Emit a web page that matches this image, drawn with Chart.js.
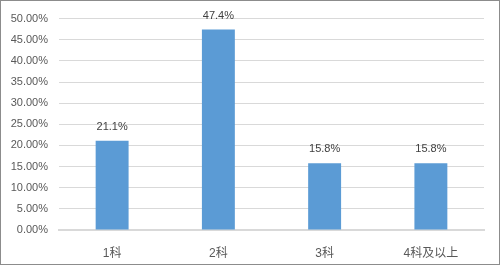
<!DOCTYPE html>
<html>
<head>
<meta charset="utf-8">
<script src="https://cdn.jsdelivr.net/npm/chart.js@4"></script>
<style>
    html, body { margin: 0; padding: 0; background: #fff; }
    #wrap { width: 500px; height: 265px; box-sizing: border-box; border: 1px solid #8c8c8c; }
    canvas { display: block; }
</style>
</head>
<body>
<div id="wrap"><canvas id="c" width="498" height="263"></canvas></div>
<script>
const categories = ['1科', '2科', '3科', '4科及以上'];
const shares = [21.1, 47.4, 15.8, 15.8];
const tickStep = 5;

const FONT = '"Liberation Sans", "Noto Sans CJK SC", sans-serif';

// labels above each bar
const barLabels = {
    id: 'barLabels',
    afterDatasetsDraw(chart) {
        const ctx = chart.ctx;
        const meta = chart.getDatasetMeta(0);
        ctx.save();
        ctx.font = '11px ' + FONT;
        ctx.fillStyle = '#404040';
        ctx.textAlign = 'center';
        ctx.textBaseline = 'middle';
        meta.data.forEach((bar, i) => {
            ctx.fillText(shares[i].toFixed(1) + '%', bar.x, bar.y - 14);
        });
        ctx.restore();
    }
};

const ctx = document.getElementById('c').getContext('2d');
new Chart(ctx, {
    type: 'bar',
    data: {
        labels: categories,
        datasets: [{
            data: shares,
            backgroundColor: '#5b9bd5',
            categoryPercentage: 1,
            barPercentage: 0.31
        }]
    },
    options: {
        responsive: false,
        animation: false,
        layout: { padding: { top: 14, right: 15, left: 0, bottom: 0 } },
        plugins: { legend: { display: false }, tooltip: { enabled: false } },
        scales: {
            x: {
                grid: { display: false },
                border: { color: '#d9d9d9', width: 2 },
                ticks: { color: '#595959', font: { size: 12, family: FONT }, padding: 8 },
                afterFit(axis) { axis.height = 34; }
            },
            y: {
                min: 0,
                max: 50,
                ticks: {
                    stepSize: tickStep,
                    color: '#595959',
                    font: { size: 11, family: FONT },
                    padding: 11,
                    callback: v => v.toFixed(2) + '%'
                },
                grid: { color: '#d9d9d9', drawTicks: false },
                border: { display: false },
                afterFit(axis) { axis.width = 58; }
            }
        }
    },
    plugins: [barLabels]
});
</script>
</body>
</html>
